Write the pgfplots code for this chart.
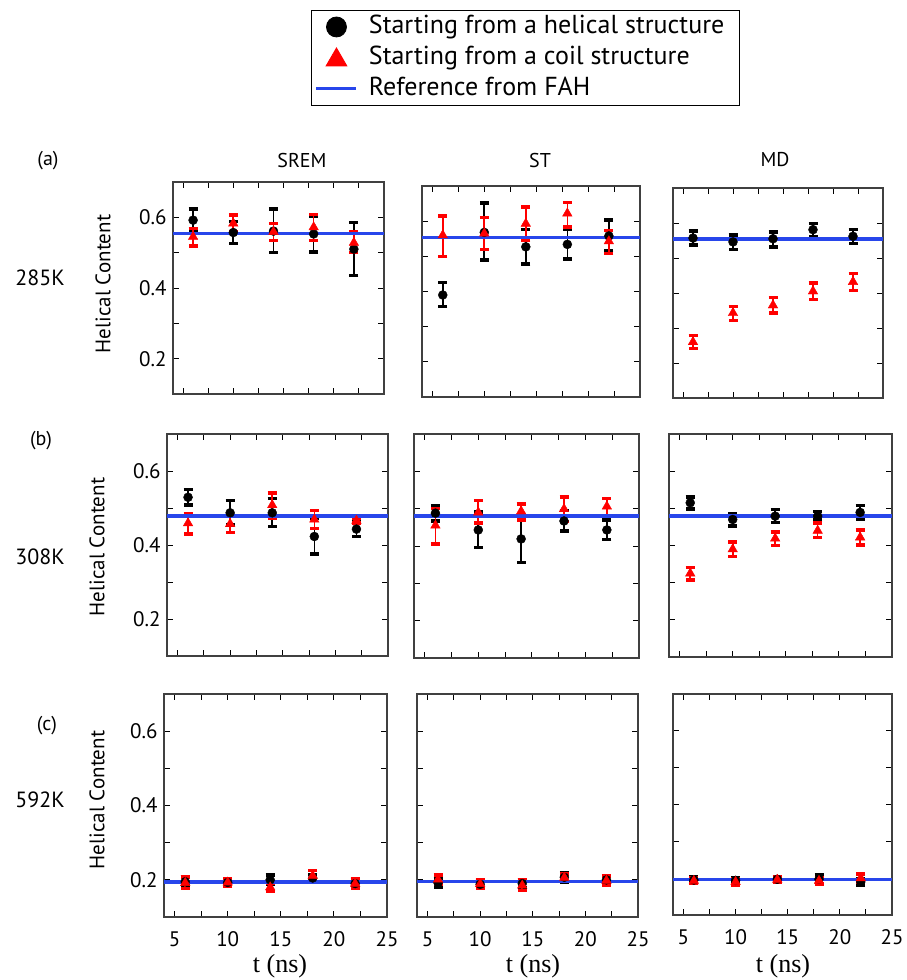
\documentclass[border=0pt]{standalone}
\usepackage{fontspec}
\setmainfont{PT Sans}
\newfontfamily\serifT{Liberation Serif}
\usepackage{pgfplots}
\pgfplotsset{compat=1.18}
\usepackage{pgfplotstable}
\definecolor{refblue}{RGB}{40,70,235}

% ---------- data: x, value, error plus, error minus ----------
\pgfplotstableread{
x y ep em
6 0.592 0.032 0.033
10 0.557 0.031 0.031
14 0.561 0.062 0.061
18 0.553 0.051 0.051
22 0.510 0.076 0.075
}\aSk
\pgfplotstableread{
x y ep em
6 0.545 0.024 0.026
10 0.583 0.024 0.024
14 0.559 0.024 0.024
18 0.572 0.036 0.037
22 0.528 0.030 0.028
}\aSc
\pgfplotstableread{
x y ep em
6 0.390 0.035 0.033
10 0.568 0.083 0.079
14 0.527 0.049 0.049
18 0.534 0.044 0.041
22 0.558 0.045 0.042
}\aTk
\pgfplotstableread{
x y ep em
6 0.560 0.054 0.061
10 0.565 0.045 0.045
14 0.593 0.048 0.047
18 0.622 0.031 0.038
22 0.543 0.031 0.035
}\aTc
\pgfplotstableread{
x y ep em
6 0.557 0.020 0.020
10 0.546 0.020 0.022
14 0.555 0.020 0.023
18 0.581 0.018 0.019
22 0.562 0.019 0.020
}\aMk
\pgfplotstableread{
x y ep em
6 0.260 0.019 0.019
10 0.343 0.019 0.021
14 0.365 0.022 0.022
18 0.405 0.024 0.024
22 0.432 0.024 0.025
}\aMc
\pgfplotstableread{
x y ep em
6 0.529 0.021 0.021
10 0.487 0.033 0.033
14 0.487 0.039 0.037
18 0.423 0.049 0.047
22 0.443 0.020 0.020
}\bSk
\pgfplotstableread{
x y ep em
6 0.459 0.025 0.029
10 0.457 0.021 0.023
14 0.508 0.032 0.036
18 0.469 0.024 0.024
22 0.466 0.006 0.006
}\bSc
\pgfplotstableread{
x y ep em
6 0.488 0.021 0.021
10 0.443 0.048 0.047
14 0.419 0.060 0.063
18 0.467 0.028 0.027
22 0.443 0.027 0.025
}\bTk
\pgfplotstableread{
x y ep em
6 0.455 0.045 0.049
10 0.490 0.032 0.029
14 0.493 0.019 0.023
18 0.499 0.032 0.033
22 0.506 0.021 0.027
}\bTc
\pgfplotstableread{
x y ep em
6 0.515 0.016 0.017
10 0.470 0.016 0.017
14 0.479 0.018 0.017
18 0.479 0.012 0.011
22 0.489 0.018 0.019
}\bMk
\pgfplotstableread{
x y ep em
6 0.325 0.016 0.018
10 0.390 0.020 0.020
14 0.419 0.018 0.019
18 0.440 0.020 0.019
22 0.422 0.020 0.021
}\bMc
\pgfplotstableread{
x y ep em
6 0.195 0.014 0.010
10 0.193 0.010 0.010
14 0.200 0.013 0.013
18 0.205 0.010 0.010
22 0.190 0.010 0.010
}\cSk
\pgfplotstableread{
x y ep em
6 0.192 0.015 0.015
10 0.193 0.011 0.011
14 0.180 0.011 0.011
18 0.211 0.014 0.014
22 0.190 0.013 0.013
}\cSc
\pgfplotstableread{
x y ep em
6 0.192 0.012 0.012
10 0.188 0.010 0.010
14 0.190 0.010 0.010
18 0.207 0.013 0.013
22 0.200 0.010 0.010
}\cTk
\pgfplotstableread{
x y ep em
6 0.201 0.012 0.012
10 0.189 0.011 0.011
14 0.185 0.014 0.014
18 0.206 0.010 0.010
22 0.198 0.013 0.013
}\cTc
\pgfplotstableread{
x y ep em
6 0.195 0.008 0.008
10 0.194 0.006 0.006
14 0.197 0.007 0.007
18 0.197 0.012 0.012
22 0.190 0.009 0.009
}\cMk
\pgfplotstableread{
x y ep em
6 0.193 0.008 0.008
10 0.190 0.008 0.008
14 0.196 0.008 0.008
18 0.193 0.009 0.009
22 0.200 0.011 0.011
}\cMc

\pgfplotsset{
  panel/.style={scale only axis, xmin=4, xmax=25, ymin=0.1, ymax=0.7,
    xtick={5,10,15,20,25}, ytick={0.2,0.4,0.6},
    minor xtick={7.5,12.5,17.5,22.5}, minor ytick={0.3,0.5},
    tick align=inside, major tick length=6pt, minor tick length=6pt,
    axis line style={line width=1.2pt, black!75},
    every tick/.style={black, line width=1pt},
    every minor tick/.style={black, line width=1pt},
    xticklabels={}, yticklabels={},
    xticklabel style={font=\fontsize{21}{21}\selectfont, yshift=-11pt},
    yticklabel style={font=\fontsize{21}{21}\selectfont, xshift=-3pt},
    clip=false},
  blk/.style={only marks, mark=*, mark size=4.5pt, black, forget plot,
    error bars/.cd, y dir=both, y explicit,
    error bar style={line width=1.6pt, black},
    error mark=-, error mark options={rotate=90, line width=3.5pt, mark size=4.5pt, black}},
  rd/.style={only marks, mark=triangle*, mark size=5.5pt, red, forget plot,
    error bars/.cd, y dir=both, y explicit,
    error bar style={line width=1.6pt, red},
    error mark=-, error mark options={rotate=90, line width=3.5pt, mark size=4.5pt, red}},
  refl/.style={refblue, line width=3.5pt, forget plot},
  legcirc/.style={legend image code/.code={\draw[#1] plot coordinates {(20pt,0pt)};}},
  legtri/.style={legend image code/.code={\draw[#1] plot coordinates {(20pt,-2pt)};}},
  legline/.style={legend image code/.code={\draw[#1] (0pt,0pt) -- (40pt,0pt);}},
}

\newcommand{\panel}[9]{%
\begin{axis}[panel, at={(#1pt,-#2pt)}, anchor=north west, width=#3pt, height=#4pt, #8]
\addplot[blk] table[x=x,y=y,y error plus=ep,y error minus=em]{#5};
\addplot[rd] table[x=x,y=y,y error plus=ep,y error minus=em]{#6};
\addplot[refl] coordinates {(4,#7) (25,#7)};
#9
\end{axis}}

\begin{document}
\begin{tikzpicture}
\path[use as bounding box] (0pt,0pt) rectangle (907pt,-980pt);

% ---- row (a) 285K ----
\panel{173}{182}{211}{212}{\aSk}{\aSc}{0.554}{yticklabels={0.2,0.4,0.6},
  legend style={at={(0.652,1.811)}, anchor=north west, draw=black, line width=0.8pt,
    font=\fontsize{26}{30}\selectfont, legend cell align=left,
    inner xsep=4pt, inner ysep=1pt, row sep=0pt,
    nodes={inner xsep=11pt, inner ysep=1pt, text height=21pt, text depth=8pt}}}{%
  \addlegendimage{black, mark=*, mark size=10pt, legcirc}
  \addlegendentry{Starting from a helical structure}
  \addlegendimage{red, mark=triangle*, mark size=12pt, legtri}
  \addlegendentry{Starting from a coil structure}
  \addlegendimage{refblue, line width=3pt, legline}
  \addlegendentry{Reference from FAH}}
\panel{422}{186}{218}{211}{\aTk}{\aTc}{0.553}{}{}
\panel{673}{188}{210}{210}{\aMk}{\aMc}{0.554}{}{}

% ---- row (b) 308K ----
\panel{167}{434}{221}{222}{\bSk}{\bSc}{0.479}{yticklabels={0.2,0.4,0.6}}{}
\panel{414}{434}{225}{224}{\bTk}{\bTc}{0.481}{}{}
\panel{669}{434}{223}{223}{\bMk}{\bMc}{0.480}{}{}

% ---- row (c) 592K ----
\panel{164}{694}{223}{223}{\cSk}{\cSc}{0.194}{yticklabels={0.2,0.4,0.6}, xticklabels={5,10,15,20,25}}{}
\panel{417}{694}{221}{223}{\cTk}{\cTc}{0.195}{xticklabels={5,10,15,20,25}}{}
\panel{673}{694}{219}{221}{\cMk}{\cMc}{0.197}{xticklabels={5,10,15,20,25}}{}

% ---- annotations ----
\begin{scope}[font=\fontsize{20}{22}\selectfont]
\node at (48pt,-161pt) {(a)};
\node at (41pt,-441pt) {(b)};
\node at (47pt,-726pt) {(c)};
\node[font=\fontsize{22}{24}\selectfont] at (40pt,-278pt) {285K};
\node[font=\fontsize{22}{24}\selectfont] at (40pt,-557pt) {308K};
\node[font=\fontsize{22}{24}\selectfont] at (40pt,-800pt) {592K};
\node at (302pt,-160pt) {SREM};
\node at (540pt,-160pt) {ST};
\node at (775pt,-160pt) {MD};
\node[rotate=90, font=\fontsize{21}{22}\selectfont] at (103pt,-284pt) {Helical Content};
\node[rotate=90, font=\fontsize{21}{22}\selectfont] at (97pt,-547pt) {Helical Content};
\node[rotate=90, font=\fontsize{21}{22}\selectfont] at (97pt,-800pt) {Helical Content};
\node[font=\serifT\fontsize{26}{28}\selectfont] at (280pt,-966pt) {t (ns)};
\node[font=\serifT\fontsize{26}{28}\selectfont] at (533pt,-966pt) {t (ns)};
\node[font=\serifT\fontsize{26}{28}\selectfont] at (783pt,-966pt) {t (ns)};
\end{scope}
\end{tikzpicture}
\end{document}
